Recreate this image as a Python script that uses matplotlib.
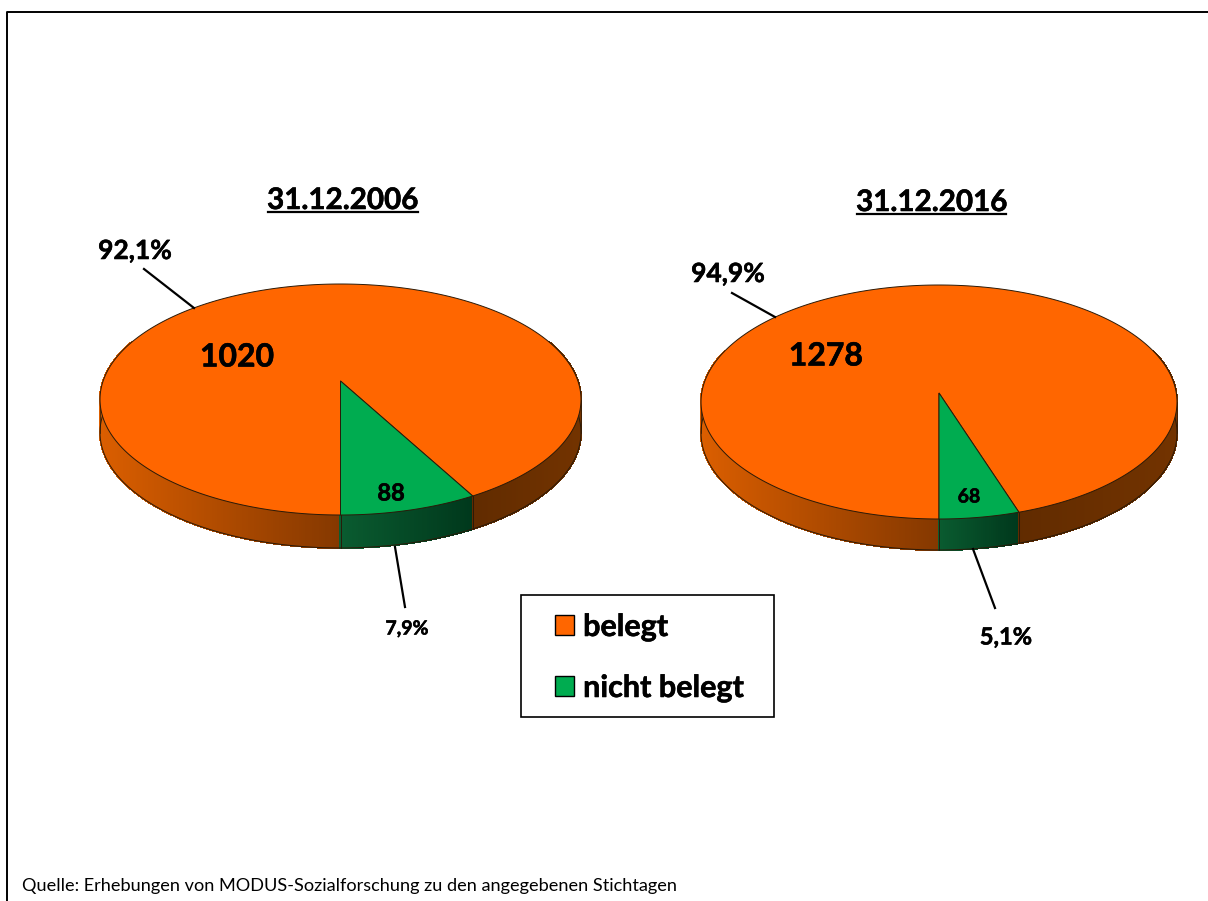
import numpy as np
import matplotlib
matplotlib.use('Agg')
import matplotlib.pyplot as plt
import matplotlib.patheffects as pe
from matplotlib.collections import PolyCollection
from matplotlib.patches import Patch, Rectangle

plt.rcParams['font.family'] = ['Lato', 'DejaVu Sans']

# data
titles = ['31.12.2006', '31.12.2016']
belegt = [1020, 1278]
nicht_belegt = [88, 68]
pct_belegt = ['92,1%', '94,9%']
pct_nicht = ['7,9%', '5,1%']
legend_labels = ['belegt', 'nicht belegt']
source = 'Quelle: Erhebungen von MODUS-Sozialforschung zu den angegebenen Stichtagen'

ORANGE = '#FF6600'
GREEN = '#00AC50'
EDGE = '#2a1a08'

# pie layout in pixels: apex x/y, top and bottom of the disc, half width, wall height
pies = [
    dict(cx=340.5, apex=381, top=284, bottom=515, half=240.5, depth=33),
    dict(cx=939, apex=393, top=285, bottom=519, half=238, depth=31),
]
# label positions in pixels
title_pos = [(343, 200), (932, 202)]
title_rule = [(268, 418, 212), (857, 1006, 214)]
pct_b_pos = [(135, 251), (728, 274)]
pct_b_line = [((144, 269), (194, 308)), ((732, 293), (775, 317))]
pct_n_pos = [(407, 629), (1006, 637)]
pct_n_line = [((395, 547), (405, 607)), ((973, 549), (995, 608))]
pct_n_size = [14, 17]
big_pos = [(237, 357), (826, 356)]
small_pos = [(391, 493), (969, 497)]
small_size = [17, 14]

thick = [pe.withStroke(linewidth=0.4, foreground='black')]


def project(pie, t):
    # circle to screen with a perspective, t is measured from the front of the disc
    a = (pie['bottom'] - pie['apex']) / (pie['apex'] - pie['top'])
    p = (a - 1) / (a + 1)
    q = (pie['bottom'] - pie['apex']) * (1 - p)
    s = pie['half'] * np.sqrt(1 - p ** 2)
    u, v = np.sin(t), np.cos(t)
    d = 1 - p * v
    return pie['cx'] + s * u / d, pie['apex'] + q * v / d


def mix(c1, c2, f):
    return tuple(np.array(c1) + (np.array(c2) - np.array(c1)) * f)


def wall_colors(x, pie, end_x):
    left = pie['cx'] - pie['half']
    right = pie['cx'] + pie['half']
    out = []
    for xi in x:
        if xi < pie['cx']:
            f = (xi - left) / (pie['cx'] - left)
            out.append(mix((0.86, 0.37, 0.0), (0.52, 0.22, 0.0), f))
        elif xi < end_x:
            f = (xi - pie['cx']) / (end_x - pie['cx'])
            out.append(mix((0.04, 0.36, 0.19), (0.0, 0.22, 0.11), f))
        else:
            f = (xi - end_x) / (right - end_x)
            out.append(mix((0.38, 0.17, 0.0), (0.45, 0.20, 0.0), f))
    return out


fig = plt.figure(figsize=(12.08, 9.01), dpi=100)
ax = fig.add_axes([0, 0, 1, 1])
ax.set_xlim(0, 1208)
ax.set_ylim(901, 0)
ax.axis('off')

# outer frame
ax.plot([7, 7, 1208], [901, 12, 12], color='black', lw=1.4)

for i, pie in enumerate(pies):
    frac = nicht_belegt[i] / (belegt[i] + nicht_belegt[i])
    end = 2 * np.pi * frac

    # side wall, thin strips so the shading runs along the rim
    t = np.linspace(-np.pi * 0.62, np.pi * 0.62, 500)
    t = np.sort(np.append(t, [0, end]))
    x, y = project(pie, t)
    end_x = project(pie, end)[0]
    d = pie['depth']
    strips = [[(x[j], y[j]), (x[j + 1], y[j + 1]), (x[j + 1], y[j + 1] + d), (x[j], y[j] + d)]
              for j in range(len(t) - 1)]
    cols = wall_colors((x[:-1] + x[1:]) / 2, pie, end_x)
    ax.add_collection(PolyCollection(strips, facecolors=cols, edgecolors=cols, linewidths=0.8,
                                     antialiaseds=False, zorder=2))
    ax.plot(x, y + d, color=EDGE, lw=0.7, zorder=3)
    for tt in [0, end]:
        xx, yy = project(pie, tt)
        ax.plot([xx, xx], [yy, yy + d], color=EDGE, lw=0.7, zorder=3)
    left_i = np.argmin(x)
    right_i = np.argmax(x)
    ax.plot([x[left_i]] * 2, [y[left_i], y[left_i] + d], color=EDGE, lw=0.5, zorder=3)
    ax.plot([x[right_i]] * 2, [y[right_i], y[right_i] + d], color=EDGE, lw=0.5, zorder=3)

    # top of the disc, two slices from the values
    t1 = np.linspace(end, 2 * np.pi, 400)
    x1, y1 = project(pie, t1)
    ax.fill(np.r_[pie['cx'], x1], np.r_[pie['apex'], y1], facecolor=ORANGE, edgecolor=EDGE, lw=0.7, zorder=4)
    t2 = np.linspace(0, end, 60)
    x2, y2 = project(pie, t2)
    ax.fill(np.r_[pie['cx'], x2], np.r_[pie['apex'], y2], facecolor=GREEN, edgecolor=EDGE, lw=0.7, zorder=5)

    # titles and labels
    ax.text(*title_pos[i], titles[i], fontsize=21.3, fontweight='bold', ha='center', va='center', path_effects=thick)
    x0, x9, yr = title_rule[i]
    ax.plot([x0, x9], [yr, yr], color='black', lw=1.6)
    ax.text(*pct_b_pos[i], pct_belegt[i], fontsize=19, fontweight='bold', ha='center', va='center', path_effects=thick)
    (a0, b0), (a1, b1) = pct_b_line[i]
    ax.plot([a0, a1], [b0, b1], color='black', lw=1.6, zorder=6)
    ax.text(*pct_n_pos[i], pct_nicht[i], fontsize=pct_n_size[i], fontweight='bold', ha='center', va='center', path_effects=thick)
    (a0, b0), (a1, b1) = pct_n_line[i]
    ax.plot([a0, a1], [b0, b1], color='black', lw=1.6, zorder=6)
    ax.text(*big_pos[i], str(belegt[i]), fontsize=23, fontweight='bold', ha='center', va='center', zorder=7, path_effects=thick)
    ax.text(*small_pos[i], str(nicht_belegt[i]), fontsize=small_size[i], fontweight='bold', ha='center', va='center', zorder=7, path_effects=thick)

# legend box is drawn apart so its padding can differ by side
ax.add_patch(Rectangle((521, 595), 253, 122, facecolor='white', edgecolor='black', lw=1.2, zorder=8))
handles = [Patch(facecolor=ORANGE, edgecolor='black', lw=1.0),
           Patch(facecolor=GREEN, edgecolor='black', lw=1.0)]
leg = ax.legend(handles, legend_labels, loc='upper left', bbox_to_anchor=(555, 613),
                bbox_transform=ax.transData, frameon=False, handlelength=0.62, handleheight=0.62,
                handletextpad=0.3, labelspacing=1.08, borderpad=0, borderaxespad=0,
                prop=dict(size=22, weight='bold'))
leg.set_zorder(9)
for txt in leg.get_texts():
    txt.set_path_effects(thick)

ax.text(22, 886, source, fontsize=13.1, ha='left', va='center')

plt.savefig('out.png', dpi=100)
plt.close()
